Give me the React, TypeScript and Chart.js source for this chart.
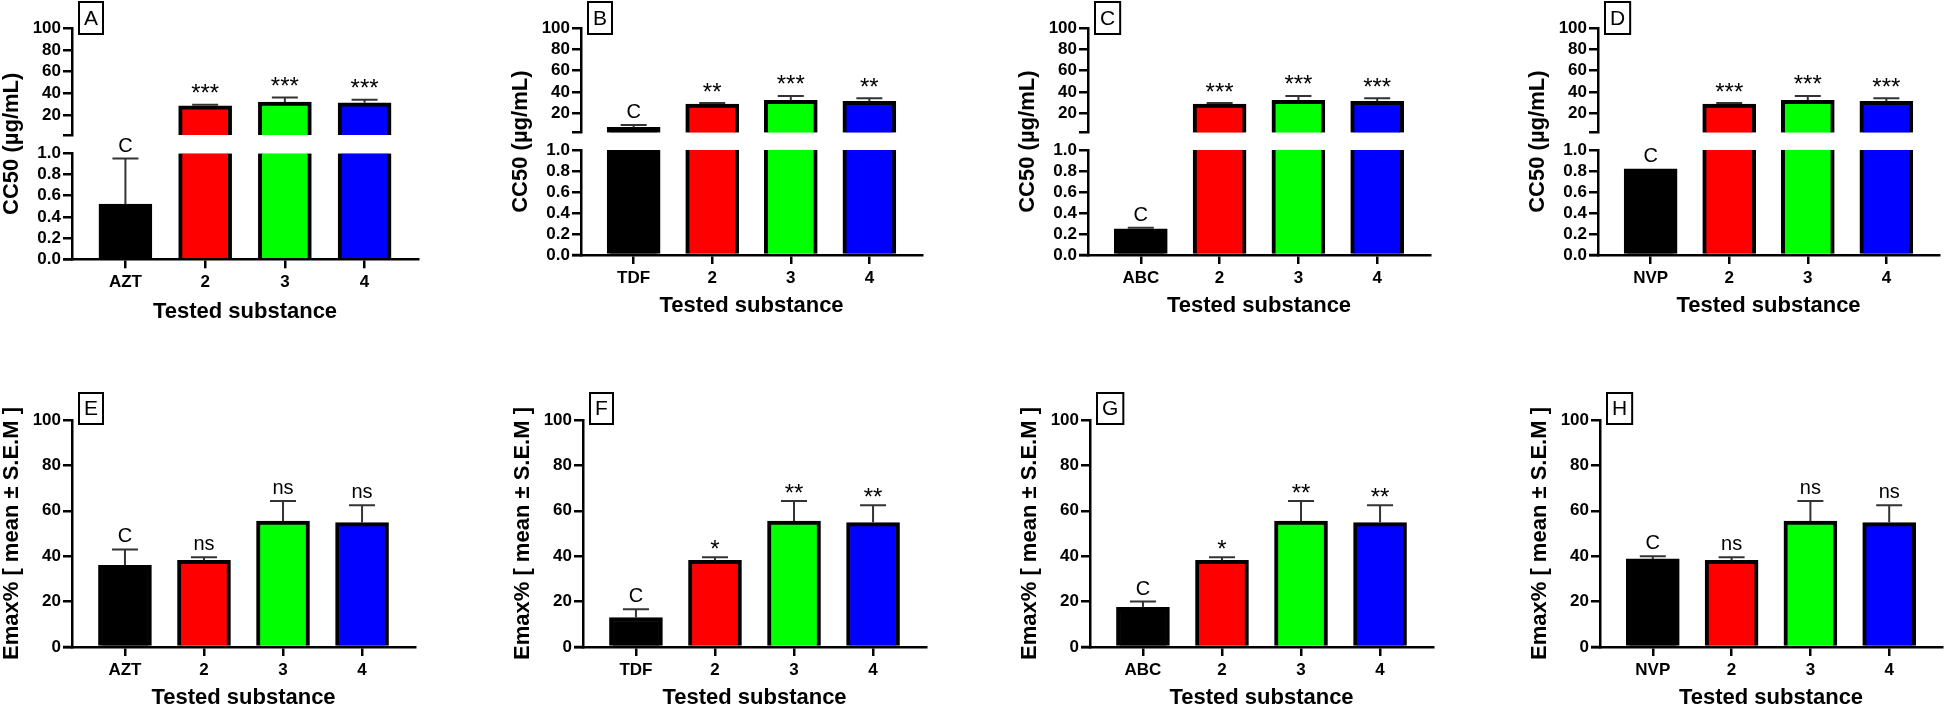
import React, { useEffect, useRef } from 'react';
import { Chart, registerables } from 'chart.js';

Chart.register(...registerables);

const FONT = "'Liberation Sans', Arial, Helvetica, sans-serif";

/* ---------------- data ---------------- */
const referenceDrugs = ['AZT', 'TDF', 'ABC', 'NVP'];
const testedCompounds = ['2', '3', '4'];
const cc50PanelLetters = ['A', 'B', 'C', 'D'];
const emaxPanelLetters = ['E', 'F', 'G', 'H'];

// CC50 (µg/mL): mean and upper SEM
const cc50ReferenceMean = [0.52, 6.5, 0.25, 0.82];
const cc50ReferenceSem = [0.43, 2.2, 0.01, 0];
const cc50CompoundMean = [28.5, 32.0, 31.2];
const cc50CompoundSem = [1.0, 4.2, 2.8];
const cc50Significance = [
  ['***', '***', '***'],
  ['**', '***', '**'],
  ['***', '***', '***'],
  ['***', '***', '***'],
];

// Emax% (mean ± S.E.M)
const emaxReferenceMean = [36.0, 13.0, 17.5, 38.8];
const emaxReferenceSem = [7.0, 3.6, 2.5, 1.2];
const emaxCompoundMean = [38.2, 55.5, 54.8];
const emaxCompoundSem = [1.3, 8.8, 7.6];
const emaxSignificance = [
  ['ns', 'ns', 'ns'],
  ['*', '**', '**'],
  ['*', '**', '**'],
  ['ns', 'ns', 'ns'],
];
const controlMark = 'C';

const cc50UpperTicks = [20, 40, 60, 80, 100];
const cc50LowerTicks = [0, 0.2, 0.4, 0.6, 0.8, 1.0];
const emaxTicks = [0, 20, 40, 60, 80, 100];
const cc50BreakLow = 1.5;
const cc50BreakHigh = 1.0;

const cc50Title = 'CC50 (µg/mL)';
const emaxTitle = 'Emax% [ mean ± S.E.M ]';
const xTitle = 'Tested substance';

const barColors = ['#000000', '#FF0000', '#00FF00', '#0000FF'];

/* ---------------- layout ---------------- */
const X_MIN = -0.67;
const X_MAX = 3.67;
const GUTTER = 72;
const RIGHT_PAD = 6;

const cc50AxisX = [72, 581, 1088, 1598];
const cc50PlotWidth = [346, 341, 342, 341];
const cc50Y100 = [28.3, 28.3, 28.3, 28.3];
const cc50YBreakLow = [135, 132.7, 132.7, 132.7];
const cc50YBreakHigh = [153.3, 150, 150, 150];
const cc50YZero = [259.3, 255, 255, 255];
const cc50XTitleY = [312, 306, 306, 306];
const cc50CanvasTop = 0;
const cc50CanvasH = 335;
const cc50BoxTop = 2;
const cc50BoxH = 32;

const emaxAxisX = [72, 583, 1090, 1600];
const emaxPlotWidth = [343, 343, 343, 342];
const emaxCanvasTop = 370;
const emaxCanvasH = 339;
const emaxY100 = 420;
const emaxYZero = 647;
const emaxXTitleY = 698;
const emaxBoxTop = 393;
const emaxBoxH = 31;

type Entry = { i: number; mean: number; sem: number; mark: string };

type Spec = {
  W: number; H: number; L: number; T: number; R: number; B: number;
  showX: boolean; xLabels: string[];
  yMin: number; yMax: number; yTicks: number[]; yLabel: (v: number) => string;
  values: any[];
  borderWidths: any[];
  entries: Entry[];
  starGap: number;
  decorate?: (chart: any) => void;
};

function overlayPlugin(spec: Spec) {
  return {
    id: 'overlay',
    afterDatasetsDraw(chart: any) {
      const ctx = chart.ctx;
      const xs = chart.scales.x;
      const ys = chart.scales.y;
      ctx.save();
      ctx.strokeStyle = '#333';
      ctx.lineWidth = 2;
      for (const e of spec.entries) {
        if (!(e.sem > 0)) continue;
        const x = xs.getPixelForValue(e.i);
        const y0 = ys.getPixelForValue(e.mean);
        const y1 = ys.getPixelForValue(e.mean + e.sem);
        ctx.beginPath();
        ctx.moveTo(x, y0);
        ctx.lineTo(x, y1);
        ctx.moveTo(x - 13, y1);
        ctx.lineTo(x + 13, y1);
        ctx.stroke();
      }
      ctx.fillStyle = '#000';
      ctx.textAlign = 'center';
      ctx.textBaseline = 'alphabetic';
      for (const e of spec.entries) {
        if (!e.mark) continue;
        const x = xs.getPixelForValue(e.i);
        const anchor = ys.getPixelForValue(e.mean + (e.sem || 0));
        if (e.mark.startsWith('*')) {
          ctx.font = `24px ${FONT}`;
          const m = ctx.measureText(e.mark);
          const cy = anchor - spec.starGap;
          const y = cy + (m.actualBoundingBoxAscent - m.actualBoundingBoxDescent) / 2;
          ctx.fillText(e.mark, x, y);
        } else {
          ctx.font = `20px ${FONT}`;
          ctx.fillText(e.mark, x, anchor - 7);
        }
      }
      ctx.restore();
    },
    afterDraw(chart: any) {
      if (spec.decorate) spec.decorate(chart);
    },
  };
}

function buildChart(canvas: HTMLCanvasElement, spec: Spec) {
  const { W, H, L, T, R, B, showX } = spec;
  const tickFont = { family: FONT, size: 17, weight: 'bold' as const };
  const gridOpts = {
    display: true,
    drawOnChartArea: false,
    drawTicks: true,
    tickLength: 9,
    lineWidth: 2.5,
    color: '#000',
    offset: false,
  };
  const borderOpts = { display: true, width: 2.5, color: '#000' };
  return new Chart(canvas, {
    type: 'bar',
    data: {
      datasets: [
        {
          data: spec.values.map((v, i) => ({ x: i, y: v })),
          backgroundColor: barColors,
          borderColor: '#000',
          borderWidth: spec.borderWidths,
          borderSkipped: 'start',
          barThickness: 53,
        } as any,
      ],
    },
    options: {
      responsive: false,
      animation: false,
      events: [],
      layout: {
        padding: { left: 0, top: T, right: W - R, bottom: showX ? 0 : H - B },
      },
      plugins: {
        legend: { display: false },
        tooltip: { enabled: false },
        title: { display: false },
      },
      scales: {
        x: {
          type: 'linear',
          display: showX,
          offset: false,
          min: X_MIN,
          max: X_MAX,
          z: 1,
          afterBuildTicks: (s: any) => {
            s.ticks = spec.xLabels.map((_, i) => ({ value: i }));
          },
          afterFit: (s: any) => {
            if (showX) s.height = H - B;
          },
          ticks: {
            callback: (v: any) => spec.xLabels[v] ?? '',
            font: tickFont,
            color: '#000',
            padding: 4,
            autoSkip: false,
            maxRotation: 0,
            minRotation: 0,
          },
          grid: gridOpts,
          border: borderOpts,
        },
        y: {
          type: 'linear',
          beginAtZero: false,
          min: spec.yMin,
          max: spec.yMax,
          z: 1,
          afterBuildTicks: (s: any) => {
            s.ticks = spec.yTicks.map((v) => ({ value: v }));
          },
          afterFit: (s: any) => {
            s.width = L;
          },
          ticks: {
            callback: (v: any) => spec.yLabel(Number(v)),
            font: tickFont,
            color: '#000',
            padding: 2,
            autoSkip: false,
          },
          grid: gridOpts,
          border: borderOpts,
        },
      },
    } as any,
    plugins: [overlayPlugin(spec)],
  });
}

function decorations(opts: {
  letter: string;
  yTitle: string;
  yTitleCY: number;
  xTitleY: number;
  boxTop: number;
  boxH: number;
}) {
  return (chart: any) => {
    const ctx = chart.ctx;
    const a = chart.chartArea;
    ctx.save();
    ctx.strokeStyle = '#000';
    ctx.lineWidth = 2.5;
    ctx.beginPath();
    ctx.moveTo(a.left - 9, a.bottom);
    ctx.lineTo(a.left, a.bottom);
    ctx.stroke();

    ctx.fillStyle = '#000';
    ctx.textAlign = 'center';
    ctx.textBaseline = 'middle';
    ctx.font = `bold 22px ${FONT}`;
    ctx.fillText(xTitle, (a.left + a.right) / 2, opts.xTitleY);

    ctx.save();
    ctx.translate(a.left - 60, opts.yTitleCY);
    ctx.rotate(-Math.PI / 2);
    ctx.fillText(opts.yTitle, 0, 0);
    ctx.restore();

    ctx.font = `21px ${FONT}`;
    const w = Math.max(23, ctx.measureText(opts.letter).width + 10);
    const bx = a.left + 7;
    ctx.lineWidth = 2;
    ctx.strokeRect(bx, opts.boxTop, w, opts.boxH);
    ctx.fillText(opts.letter, bx + w / 2, opts.boxTop + opts.boxH / 2 + 1);
    ctx.restore();
  };
}

function CC50Panel({ k }: { k: number }) {
  const upperRef = useRef<HTMLCanvasElement>(null);
  const lowerRef = useRef<HTMLCanvasElement>(null);
  const left = cc50AxisX[k] - GUTTER;
  const W = GUTTER + cc50PlotWidth[k] + RIGHT_PAD;
  const H = cc50CanvasH;

  useEffect(() => {
    const L = GUTTER;
    const R = L + cc50PlotWidth[k];
    const off = cc50CanvasTop;
    const means = [cc50ReferenceMean[k], ...cc50CompoundMean];
    const sems = [cc50ReferenceSem[k], ...cc50CompoundSem];
    const marks = [controlMark, ...cc50Significance[k]];
    const labels = [referenceDrugs[k], ...testedCompounds];
    const entries: Entry[] = means.map((m, i) => ({ i, mean: m, sem: sems[i], mark: marks[i] }));

    const upper = buildChart(upperRef.current!, {
      W, H, L, R,
      T: cc50Y100[k] - off,
      B: cc50YBreakLow[k] - off,
      showX: false,
      xLabels: labels,
      yMin: cc50BreakLow,
      yMax: 100,
      yTicks: [cc50BreakLow, ...cc50UpperTicks],
      yLabel: (v) => (v === cc50BreakLow ? '' : String(v)),
      values: means.map((m) => (m > cc50BreakLow ? [cc50BreakLow, m] : null)),
      borderWidths: means.map(() => 4),
      entries: entries.filter((e) => e.mean > cc50BreakLow),
      starGap: 16,
    });
    const lower = buildChart(lowerRef.current!, {
      W, H, L, R,
      T: cc50YBreakHigh[k] - off,
      B: cc50YZero[k] - off,
      showX: true,
      xLabels: labels,
      yMin: 0,
      yMax: cc50BreakHigh,
      yTicks: cc50LowerTicks,
      yLabel: (v) => v.toFixed(1),
      values: means.map((m) => Math.min(m, cc50BreakHigh)),
      borderWidths: means.map((m) =>
        m >= cc50BreakHigh ? { top: 0, left: 4, right: 4, bottom: 0 } : 4
      ),
      entries: entries.filter((e) => e.mean <= cc50BreakHigh),
      starGap: 16,
      decorate: decorations({
        letter: cc50PanelLetters[k],
        yTitle: cc50Title,
        yTitleCY: (cc50Y100[k] + cc50YZero[k]) / 2 - off,
        xTitleY: cc50XTitleY[k] - off,
        boxTop: cc50BoxTop - off,
        boxH: cc50BoxH,
      }),
    });
    return () => {
      upper.destroy();
      lower.destroy();
    };
  }, []);

  return (
    <div style={{ position: 'absolute', left, top: cc50CanvasTop, width: W, height: H }}>
      <canvas ref={lowerRef} width={W} height={H} style={{ position: 'absolute', left: 0, top: 0 }} />
      <canvas ref={upperRef} width={W} height={H} style={{ position: 'absolute', left: 0, top: 0 }} />
    </div>
  );
}

function EmaxPanel({ k }: { k: number }) {
  const ref = useRef<HTMLCanvasElement>(null);
  const left = emaxAxisX[k] - GUTTER;
  const W = GUTTER + emaxPlotWidth[k] + RIGHT_PAD;
  const H = emaxCanvasH;

  useEffect(() => {
    const L = GUTTER;
    const R = L + emaxPlotWidth[k];
    const off = emaxCanvasTop;
    const means = [emaxReferenceMean[k], ...emaxCompoundMean];
    const sems = [emaxReferenceSem[k], ...emaxCompoundSem];
    const marks = [controlMark, ...emaxSignificance[k]];
    const labels = [referenceDrugs[k], ...testedCompounds];
    const entries: Entry[] = means.map((m, i) => ({ i, mean: m, sem: sems[i], mark: marks[i] }));

    const chart = buildChart(ref.current!, {
      W, H, L, R,
      T: emaxY100 - off,
      B: emaxYZero - off,
      showX: true,
      xLabels: labels,
      yMin: 0,
      yMax: 100,
      yTicks: emaxTicks,
      yLabel: (v) => String(v),
      values: means,
      borderWidths: means.map(() => 4),
      entries,
      starGap: 13,
      decorate: decorations({
        letter: emaxPanelLetters[k],
        yTitle: emaxTitle,
        yTitleCY: (emaxY100 + emaxYZero) / 2 - off,
        xTitleY: emaxXTitleY - off,
        boxTop: emaxBoxTop - off,
        boxH: emaxBoxH,
      }),
    });
    return () => chart.destroy();
  }, []);

  return (
    <div style={{ position: 'absolute', left, top: emaxCanvasTop, width: W, height: H }}>
      <canvas ref={ref} width={W} height={H} style={{ position: 'absolute', left: 0, top: 0 }} />
    </div>
  );
}

export default function App() {
  return (
    <div
      style={{
        position: 'fixed',
        left: 0,
        top: 0,
        width: 1944,
        height: 709,
        background: '#fff',
        overflow: 'hidden',
      }}
    >
      {cc50PanelLetters.map((_, k) => (
        <CC50Panel key={'c' + k} k={k} />
      ))}
      {emaxPanelLetters.map((_, k) => (
        <EmaxPanel key={'e' + k} k={k} />
      ))}
    </div>
  );
}
